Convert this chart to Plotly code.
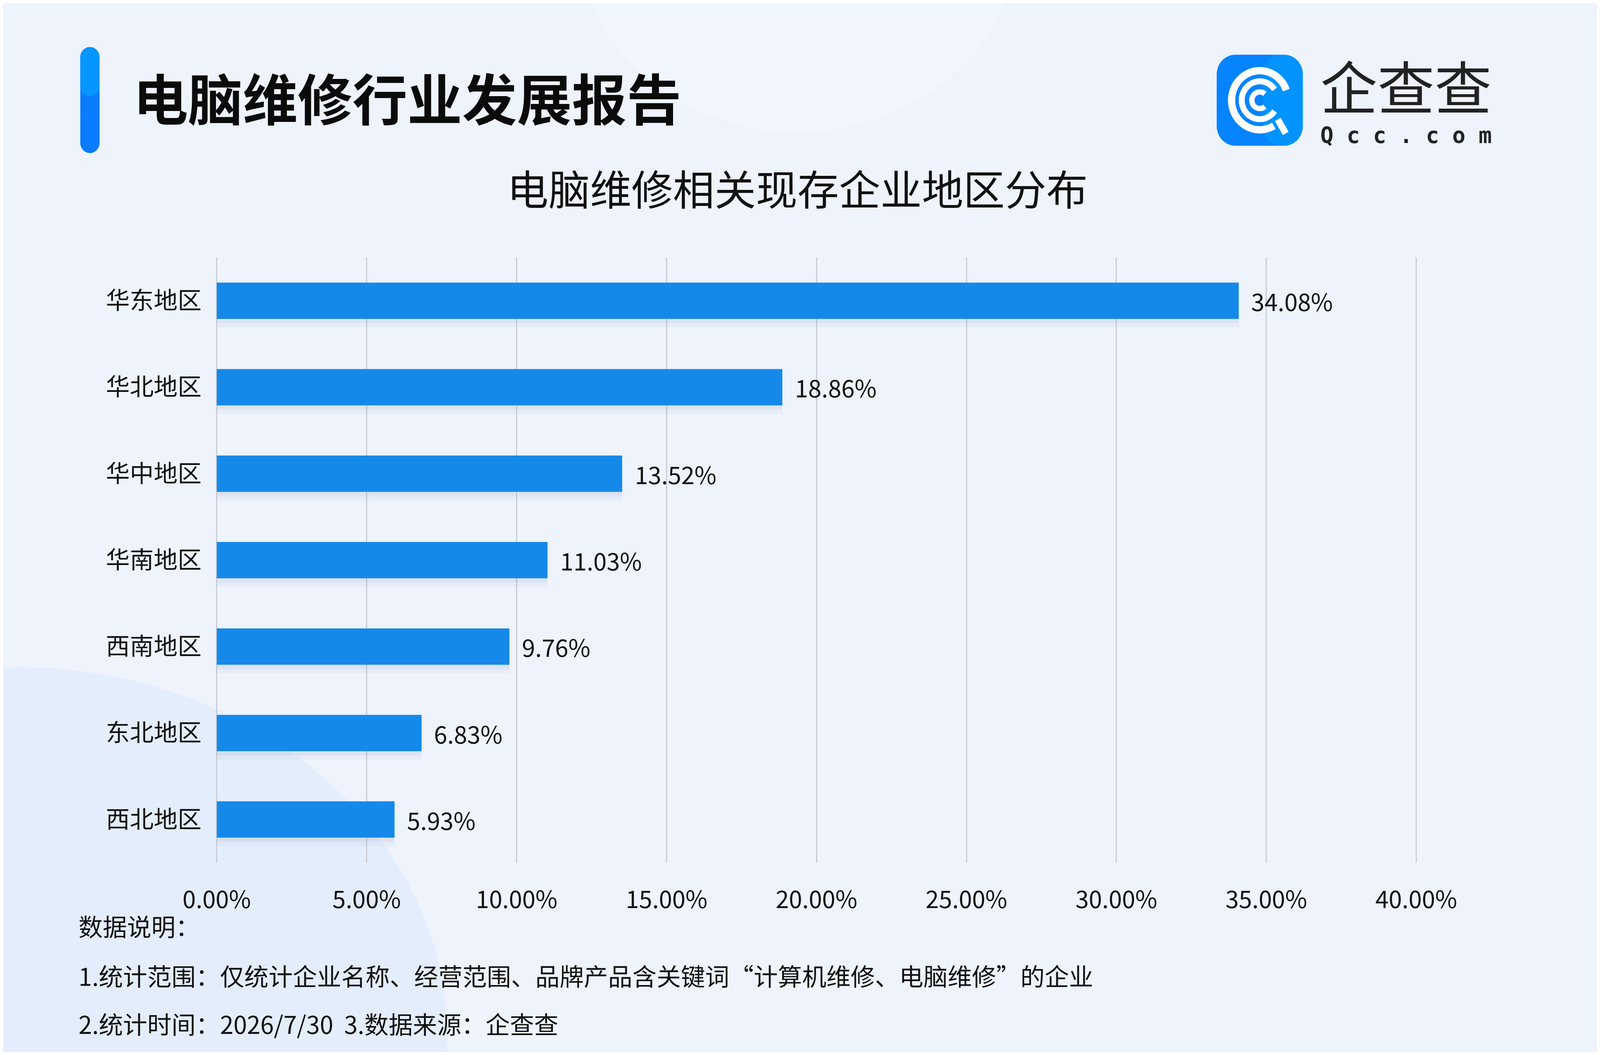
import numpy as np
import plotly.graph_objects as go

# 数据：电脑维修相关现存企业地区分布（%）
regions = ["华东地区", "华北地区", "华中地区", "华南地区", "西南地区", "东北地区", "西北地区"]
shares = [34.08, 18.86, 13.52, 11.03, 9.76, 6.83, 5.93]
x_ticks = [0, 5, 10, 15, 20, 25, 30, 35, 40]
x_tick_text = [f"{v:.2f}%" for v in x_ticks]

TITLE = "电脑维修行业发展报告"
SUBTITLE = "电脑维修相关现存企业地区分布"
NOTES = [
    "数据说明：",
    "1.统计范围：仅统计企业名称、经营范围、品牌产品含关键词“计算机维修、电脑维修”的企业",
    "2.统计时间：2026/7/30  3.数据来源：企查查",
]

# 浏览器视口实际 4096x2700，减去 body 8px 边距
W, H = 4080, 2684
SX, SY = W / 4800, H / 2700      # 参考图坐标 -> 本图坐标
FS = 0.9                         # 字号缩放
FONT = "Noto Sans CJK SC"
BAR_COLOR = "#1589EA"
TEXT_COLOR = "#111111"


def px(x):
    return x / W


def py(y):
    return 1 - y / H


# logo 整体等比缩放
LOGO_S = 0.85
LOGO_X0 = W - 200 * SX - 875 * LOGO_S


def lx(x_ref):
    return LOGO_X0 + (x_ref - 3725) * LOGO_S


def ly(y_ref):
    return 250 * SY + (y_ref - 250) * LOGO_S


def arc_path(cx, cy, r, a0, a1, n=60):
    # 折线近似圆弧（像素坐标 -> paper 坐标），角度为度
    t = np.radians(np.linspace(a0, a1, n))
    xs = cx + r * np.cos(t)
    ys = cy - r * np.sin(t)
    return "M " + " L ".join(f"{px(a):.5f},{py(b):.5f}" for a, b in zip(xs, ys))


def round_rect(x0, y0, x1, y1, r, n=12):
    pts = []
    corners = [(x1 - r, y0 + r, 90, 0), (x1 - r, y1 - r, 0, -90),
               (x0 + r, y1 - r, -90, -180), (x0 + r, y0 + r, 180, 90)]
    for cx, cy, a0, a1 in corners:
        for t in np.radians(np.linspace(a0, a1, n)):
            pts.append((cx + r * np.cos(t), cy - r * np.sin(t)))
    return "M " + " L ".join(f"{px(a):.5f},{py(b):.5f}" for a, b in pts) + " Z"


fig = go.Figure()
# 柱子下方的柔和阴影（两层叠加）
for w, off, a in [(0.50, -0.19, 0.06), (0.46, -0.20, 0.08)]:
    fig.add_trace(go.Bar(
        y=regions, x=shares, orientation="h", width=w, offset=off,
        marker=dict(color=f"rgba(110,130,180,{a})", line=dict(width=0)),
        hoverinfo="skip",
    ))
fig.add_trace(go.Bar(
    y=regions, x=shares, orientation="h", width=0.42, offset=-0.21,
    marker=dict(color=BAR_COLOR, line=dict(width=0)),
    hovertemplate="%{y}: %{x:.2f}%<extra></extra>",
))

annotations = []
# 数值标签
for r, v in zip(regions, shares):
    annotations.append(dict(
        x=v, y=r, xref="x", yref="y", text=f"{v:.2f}%", showarrow=False,
        xanchor="left", xshift=30, font=dict(family=FONT, size=68 * FS, color=TEXT_COLOR),
    ))

# 标题、副标题、说明文字
annotations.append(dict(x=px(300 * SX), y=py(240 * SY), xref="paper", yref="paper", text=TITLE,
                        showarrow=False, xanchor="left", yanchor="middle",
                        font=dict(family=FONT, size=156 * FS, color="#0b0b0b", weight="bold")))
annotations.append(dict(x=0.5, y=py(474 * SY), xref="paper", yref="paper", text=SUBTITLE,
                        showarrow=False, xanchor="center", yanchor="middle",
                        font=dict(family=FONT, size=118 * FS, color=TEXT_COLOR)))
for line, yy in zip(NOTES, [2375, 2503, 2627]):
    annotations.append(dict(x=px(127 * SX), y=py(yy * SY), xref="paper", yref="paper",
                            text=line, showarrow=False, xanchor="left", yanchor="middle",
                            font=dict(family=FONT, size=69 * FS, color=TEXT_COLOR)))

# 企查查 logo 文字
annotations.append(dict(x=px(lx(4322)), y=py(ly(202)), xref="paper", yref="paper", text="企查查",
                        showarrow=False, xanchor="center", yanchor="middle",
                        font=dict(family=FONT, size=172 * LOGO_S, color="#222222")))
annotations.append(dict(x=px(lx(4322)), y=py(ly(356)), xref="paper", yref="paper",
                        text="Q c c . c o m", showarrow=False, xanchor="center", yanchor="middle",
                        font=dict(family="DejaVu Sans Mono", size=66 * LOGO_S, color="#222222",
                                  weight="bold")))

shapes = [
    # 背景光斑
    dict(type="circle", xref="paper", yref="paper", x0=px(1700 * SX), x1=px(3100 * SX),
         y0=py(330), y1=py(-700), fillcolor="rgba(255,255,255,0.28)", line=dict(width=0),
         layer="below"),
    dict(type="circle", xref="paper", yref="paper", x0=px(-1200), x1=px(1100),
         y0=py(3600), y1=py(1700), fillcolor="rgba(200,220,250,0.25)", line=dict(width=0),
         layer="below"),
    # 标题左侧竖条
    dict(type="path", xref="paper", yref="paper",
         path=round_rect(135 * SX, 113 * SY, 196 * SX, 386 * SY, 26),
         fillcolor="#0A7CFF", line=dict(width=0)),
    dict(type="path", xref="paper", yref="paper",
         path=round_rect(135 * SX, 113 * SY, 196 * SX, 240 * SY, 26),
         fillcolor="rgba(0,175,255,0.5)", line=dict(width=0)),
    # logo 底
    dict(type="path", xref="paper", yref="paper",
         path=round_rect(lx(3724), ly(113), lx(3996), ly(387), 50),
         fillcolor="#0584FE", line=dict(width=0)),
    dict(type="path", xref="paper", yref="paper",
         path=round_rect(lx(3870), ly(113), lx(3996), ly(387), 50),
         fillcolor="rgba(0,175,255,0.35)", line=dict(width=0)),
    # logo 环
    dict(type="path", xref="paper", yref="paper", path=arc_path(lx(3860), ly(250), 89 * LOGO_S, 20, 300),
         line=dict(color="white", width=22 * LOGO_S)),
    dict(type="path", xref="paper", yref="paper", path=arc_path(lx(3860), ly(250), 57 * LOGO_S, 35, 325),
         line=dict(color="white", width=18 * LOGO_S)),
    dict(type="path", xref="paper", yref="paper", path=arc_path(lx(3860), ly(250), 25 * LOGO_S, 50, 310),
         line=dict(color="white", width=16 * LOGO_S)),
    dict(type="line", xref="paper", yref="paper", x0=px(lx(3917)), y0=py(ly(308)),
         x1=px(lx(3942)), y1=py(ly(350)), line=dict(color="white", width=20 * LOGO_S)),
]

fig.update_layout(
    width=W, height=H,
    margin=dict(l=0, r=0, t=0, b=0),
    paper_bgcolor="#EEF3FC", plot_bgcolor="rgba(0,0,0,0)",
    showlegend=False, annotations=annotations, shapes=shapes,
    barmode="overlay",
    xaxis=dict(domain=[px(566 * SX), px(4359 * SX)], range=[0, 40.05], tickvals=x_ticks,
               ticktext=x_tick_text, showgrid=True, gridcolor="#C9CCD5", gridwidth=3,
               zeroline=True, zerolinecolor="#C9CCD5", zerolinewidth=3, showline=False,
               ticks="", ticklabelstandoff=54,
               tickfont=dict(family=FONT, size=68 * FS, color=TEXT_COLOR), fixedrange=True),
    yaxis=dict(domain=[py(2213 * SY), py(655 * SY)], autorange="reversed", showgrid=False,
               zeroline=False, showline=False, ticks="", ticklabelstandoff=38,
               tickfont=dict(family=FONT, size=68 * FS, color=TEXT_COLOR), fixedrange=True),
)

fig.write_html("out.html")
